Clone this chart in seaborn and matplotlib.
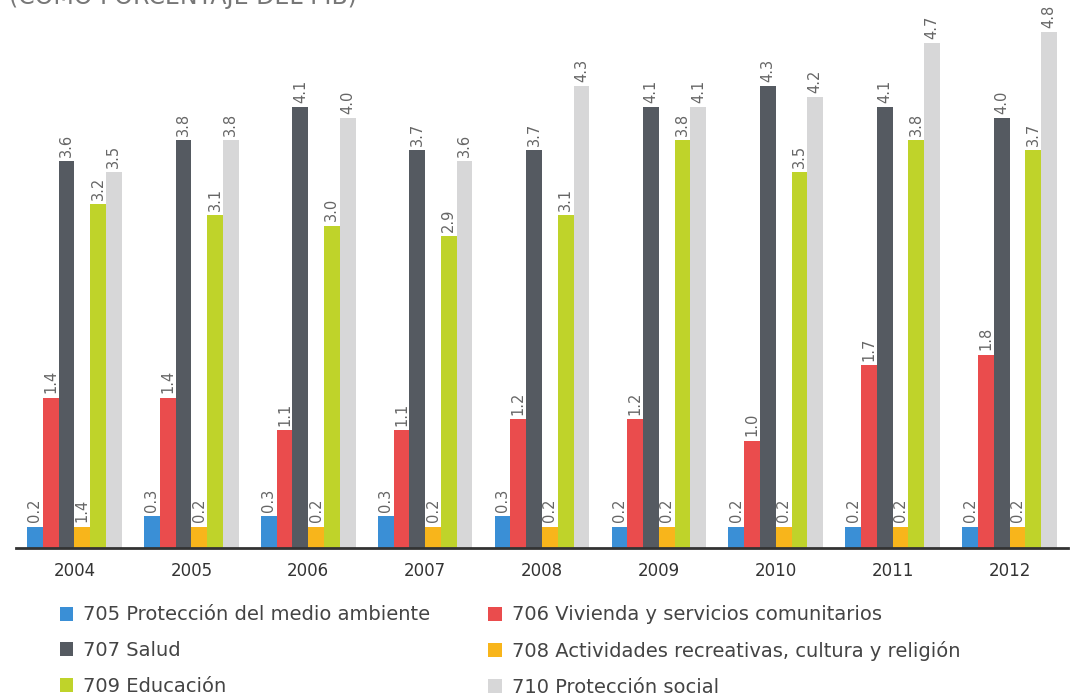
import pandas as pd
import numpy as np
import seaborn as sns
import matplotlib.pyplot as plt
from matplotlib.patches import Patch

years = ['2004', '2005', '2006', '2007', '2008', '2009', '2010', '2011', '2012']
series_names = [
    '705 Protección del medio ambiente',
    '706 Vivienda y servicios comunitarios',
    '707 Salud',
    '708 Actividades recreativas, cultura y religión',
    '709 Educación',
    '710 Protección social',
]
medio_ambiente = [0.2, 0.3, 0.3, 0.3, 0.3, 0.2, 0.2, 0.2, 0.2]
vivienda = [1.4, 1.4, 1.1, 1.1, 1.2, 1.2, 1.0, 1.7, 1.8]
salud = [3.6, 3.8, 4.1, 3.7, 3.7, 4.1, 4.3, 4.1, 4.0]
recreativas = [0.2, 0.2, 0.2, 0.2, 0.2, 0.2, 0.2, 0.2, 0.2]
educacion = [3.2, 3.1, 3.0, 2.9, 3.1, 3.8, 3.5, 3.8, 3.7]
proteccion_social = [3.5, 3.8, 4.0, 3.6, 4.3, 4.1, 4.2, 4.7, 4.8]
# the 2004 label of series 708 reads 1.4 in the original
recreativas_labels = ['1.4', '0.2', '0.2', '0.2', '0.2', '0.2', '0.2', '0.2', '0.2']

colors = ['#3a8fd6', '#ea4c4d', '#555a61', '#f8b51b', '#bfd32a', '#d7d7d8']

all_values = [medio_ambiente, vivienda, salud, recreativas, educacion, proteccion_social]
df = pd.DataFrame({
    'year': np.tile(years, len(series_names)),
    'serie': np.repeat(series_names, len(years)),
    'value': np.concatenate(all_values),
})

sns.set_style('white')
plt.rcParams['font.family'] = ['DejaVu Sans']

fig = plt.figure(figsize=(10.78, 6.96), dpi=100)
ax = fig.add_axes([16 / 1078, 148 / 696, 1052 / 1078, 548 / 696])

sns.barplot(data=df, x='year', y='value', hue='serie', order=years,
            hue_order=series_names, palette=colors, width=0.81,
            saturation=1, linewidth=0, legend=False, ax=ax)

for i, cont in enumerate(ax.containers):
    if i == 3:
        labels = recreativas_labels
    else:
        labels = ['%.1f' % v for v in all_values[i]]
    ax.bar_label(cont, labels=labels, rotation=90, padding=3,
                 fontsize=10.5, color='#666666')

ax.set_ylim(0, 5.1)
ax.set_xlim(-0.5, 8.5)
ax.set_xlabel('')
ax.set_ylabel('')
ax.set_yticks([])
for s in ['top', 'right', 'left']:
    ax.spines[s].set_visible(False)
ax.spines['bottom'].set_color('#333333')
ax.spines['bottom'].set_linewidth(2)
ax.tick_params(axis='x', length=0, pad=10, labelsize=12, labelcolor='#333333')

# title is cropped at the top edge in the original picture
fig.text(0.008, 1.004, '(COMO PORCENTAJE DEL PIB)', fontsize=17,
         color='#777777', va='center', ha='left')

handles = [Patch(facecolor=c, edgecolor='none') for c in colors]
order = [0, 2, 4, 1, 3, 5]
fig.legend([handles[k] for k in order], [series_names[k] for k in order],
           ncol=2, loc='upper left', bbox_to_anchor=(42 / 1078, 1 - 588 / 696),
           frameon=False, fontsize=14, labelcolor='#444444',
           handlelength=0.7, handleheight=0.7, handletextpad=0.5,
           labelspacing=0.85, columnspacing=3.0)

fig.savefig('out.png', dpi=100)
